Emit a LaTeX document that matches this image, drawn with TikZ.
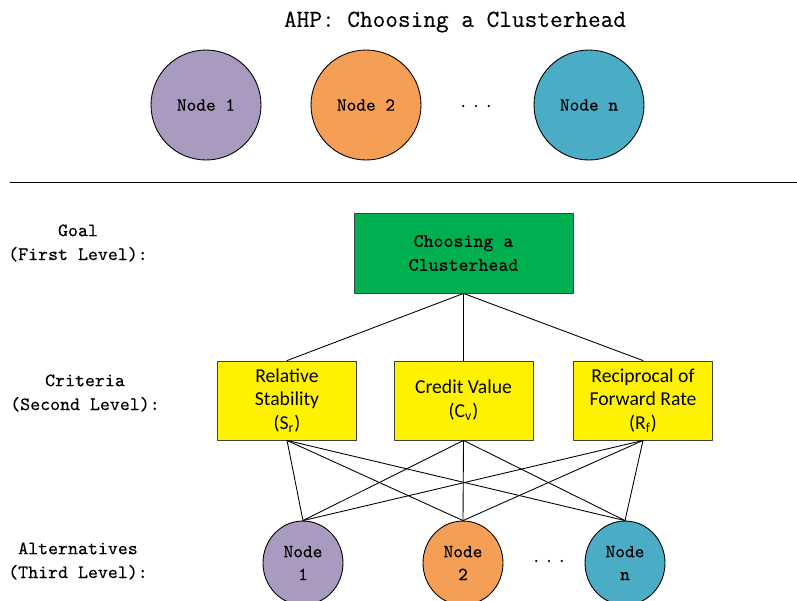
\documentclass[tikz,border=0pt]{standalone}
\usepackage{fontspec}
\setmainfont{Carlito}
\newfontfamily\labelmono[FakeBold=0.3]{Latin Modern Mono}
\usepackage{tikz}
\usetikzlibrary{shapes.geometric}
\definecolor{nodepurple}{RGB}{169,155,191}
\definecolor{nodeorange}{RGB}{245,158,86}
\definecolor{nodeteal}{RGB}{75,172,198}
\definecolor{goalgreen}{RGB}{0,176,80}

\begin{document}
\begin{tikzpicture}[x=0.02cm,y=-0.02cm,line cap=round,line join=round,
    ball/.style={circle,draw=black,line width=0.5pt,minimum size=2.2cm,inner sep=0pt,font=\labelmono\fontsize{10.5}{12}\selectfont},
    alt/.style={ellipse,draw=black,line width=0.5pt,minimum width=1.6cm,minimum height=1.68cm,inner sep=0pt,align=center,font=\labelmono\fontsize{10.5}{13}\selectfont},
    goalbox/.style={rectangle,draw=black!75,line width=0.5pt,fill=goalgreen,minimum width=4.38cm,minimum height=1.6cm,align=center,font=\labelmono\fontsize{10.8}{13.6}\selectfont},
    critbox/.style={rectangle,draw=black!75,line width=0.5pt,fill=yellow,minimum width=2.78cm,minimum height=1.58cm,align=center,font=\fontsize{11.2}{13.6}\selectfont},
    level/.style={align=center,font=\labelmono\fontsize{10.8}{13.6}\selectfont},
    link/.style={line width=0.5pt}]
    \useasboundingbox (0,0) rectangle (797,600);
    % title and cluster members
    \node[font=\labelmono\fontsize{14}{16}\selectfont] (title) at (455,22) {AHP: Choosing a Clusterhead};
    \node[ball,fill=nodepurple] (top1) at (206,105) {Node 1};
    \node[ball,fill=nodeorange] (top2) at (366,105) {Node 2};
    \node[font=\labelmono\fontsize{10.5}{12}\selectfont] (topdots) at (476,106) {.\,.\,.};
    \node[ball,fill=nodeteal] (topn) at (589,105) {Node n};
    \coordinate (sepL) at (10,182);
    \coordinate (sepR) at (797,182);
    \draw[link] (sepL) -- (sepR);
    % levels
    \node[level] (lvlgoal) at (78,243) {Goal\\(First Level):};
    \node[level] (lvlcrit) at (85,393) {Criteria\\(Second Level):};
    \node[level] (lvlalt) at (78,561) {Alternatives\\(Third Level):};
    % hierarchy
    \node[goalbox] (goal) at (463.5,253) {Choosing a\\Clusterhead};
    \node[critbox] (crit1) at (287,400.5) {Relative\\Stability\\(S\textsubscript{r})};
    \node[critbox] (crit2) at (463.5,400.5) {Credit Value\\(C\textsubscript{v})};
    \node[critbox] (crit3) at (643,400.5) {Reciprocal of\\Forward Rate\\(R\textsubscript{f})};
    \node[alt,fill=nodepurple] (alt1) at (303,563) {Node\\1};
    \node[alt,fill=nodeorange] (alt2) at (463,563) {Node\\2};
    \node[font=\labelmono\fontsize{10.5}{12}\selectfont] (altdots) at (549,561) {.\,.\,.};
    \node[alt,fill=nodeteal] (altn) at (625,563) {Node\\n};
    \foreach \c in {crit1,crit2,crit3}
        \draw[link] (goal.south) -- (\c.north);
    \foreach \c in {crit1,crit2,crit3}
        \foreach \a in {alt1,alt2,altn}
            \draw[link] (\c.south) -- (\a.north);
\end{tikzpicture}
\end{document}
